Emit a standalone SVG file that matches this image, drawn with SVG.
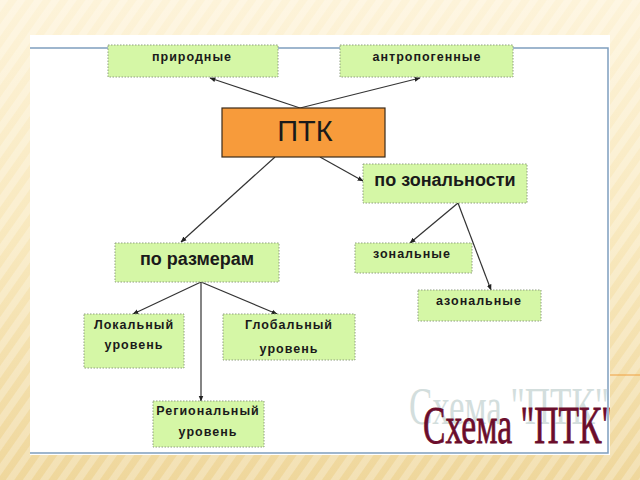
<svg xmlns="http://www.w3.org/2000/svg" width="640" height="480" viewBox="0 0 640 480">
<defs>
<linearGradient id="bg" x1="0" y1="0" x2="0" y2="1">
<stop offset="0" stop-color="#fdf3d9"/>
<stop offset="0.5" stop-color="#f8e8bd"/>
<stop offset="1" stop-color="#efd79c"/>
</linearGradient>
<pattern id="stripes" width="14" height="14" patternUnits="userSpaceOnUse" patternTransform="rotate(35)">
<rect width="7" height="14" fill="#ffffff" opacity="0.25"/>
</pattern>
<marker id="ah" viewBox="0 0 10 10" refX="9" refY="5" markerWidth="5" markerHeight="5" orient="auto">
<path d="M0,1 L10,5 L0,9 z" fill="#222"/>
</marker>
<clipPath id="panel"><rect x="30" y="35" width="580" height="420"/></clipPath>
<style>
.box{fill:#d5f7a6;stroke:#8f9e80;stroke-width:1;stroke-dasharray:1.5 1.5}
.t{font-family:"Liberation Sans",Arial,sans-serif;fill:#1a1a1a;text-anchor:middle}
.s{font-size:12.5px;font-weight:bold;letter-spacing:1px}
.m{font-size:18px;font-weight:bold}
.c{stroke:#333;stroke-width:1.2;fill:none}
.a{marker-end:url(#ah)}
.ttl{font-family:"Liberation Serif","Times New Roman",serif;font-size:52px}
</style>
</defs>
<rect width="640" height="480" fill="url(#bg)"/>
<rect width="640" height="480" fill="url(#stripes)"/>
<line x1="610" y1="375" x2="640" y2="375" stroke="#f0a040" stroke-width="1"/>
<rect x="30" y="35" width="580" height="420" fill="#ffffff"/>
<path d="M30,48 H608 V453 H30" fill="none" stroke="#7f9fbf" stroke-width="1.5"/>

<g id="connectors">
<line class="c a" x1="300" y1="108" x2="210" y2="78"/>
<line class="c a" x1="300" y1="108" x2="420" y2="78"/>
<line class="c a" x1="320" y1="157" x2="363" y2="181"/>
<line class="c a" x1="275" y1="157" x2="181" y2="242"/>
<line class="c a" x1="458" y1="203" x2="410" y2="243"/>
<line class="c a" x1="458" y1="203" x2="491" y2="290"/>
<line class="c a" x1="201" y1="282" x2="133" y2="314"/>
<line class="c a" x1="201" y1="282" x2="277" y2="314"/>
<line class="c a" x1="201" y1="282" x2="201" y2="401"/>
</g>

<g id="prirodnye">
<rect class="box" x="108" y="45" width="170" height="32"/>
<text class="t s" x="192" y="61">природные</text>
</g>
<g id="antropogennye">
<rect class="box" x="340" y="45" width="173" height="32"/>
<text class="t s" x="427" y="61">антропогенные</text>
</g>
<g id="ptk">
<rect x="222" y="108" width="163" height="49" fill="#f79b3b" stroke="#3a2a1a" stroke-width="1.2"/>
<text class="t" x="305" y="141" font-size="29">ПТК</text>
</g>
<g id="po-zonalnosti">
<rect class="box" x="363" y="164" width="164" height="39"/>
<text class="t m" x="445" y="186">по зональности</text>
</g>
<g id="po-razmeram">
<rect class="box" x="115" y="243" width="164" height="39"/>
<text class="t m" x="197" y="265">по размерам</text>
</g>
<g id="zonalnye">
<rect class="box" x="355" y="243" width="117" height="30"/>
<text class="t s" x="412" y="258">зональные</text>
</g>
<g id="azonalnye">
<rect class="box" x="418" y="290" width="123" height="31"/>
<text class="t s" x="479" y="305">азональные</text>
</g>
<g id="lokalny">
<rect class="box" x="84" y="314" width="100" height="54"/>
<text class="t s" x="134" y="329">Локальный</text>
<text class="t s" x="134" y="349">уровень</text>
</g>
<g id="globalny">
<rect class="box" x="223" y="314" width="132" height="46"/>
<text class="t s" x="289" y="329">Глобальный</text>
<text class="t s" x="289" y="353">уровень</text>
</g>
<g id="regionalny">
<rect class="box" x="153" y="401" width="111" height="46"/>
<text class="t s" x="208" y="415">Региональный</text>
<text class="t s" x="208" y="436">уровень</text>
</g>

<g id="title">
<g clip-path="url(#panel)">
<text class="ttl" x="409" y="424" fill="#d3dedd" textLength="200" lengthAdjust="spacingAndGlyphs">Схема "ПТК"</text>
<text class="ttl" x="423" y="443" fill="#6b0d2c" stroke="#6b0d2c" stroke-width="0.8" textLength="192" lengthAdjust="spacingAndGlyphs">Схема "ПТК"</text>
</g>
</g>
</svg>
